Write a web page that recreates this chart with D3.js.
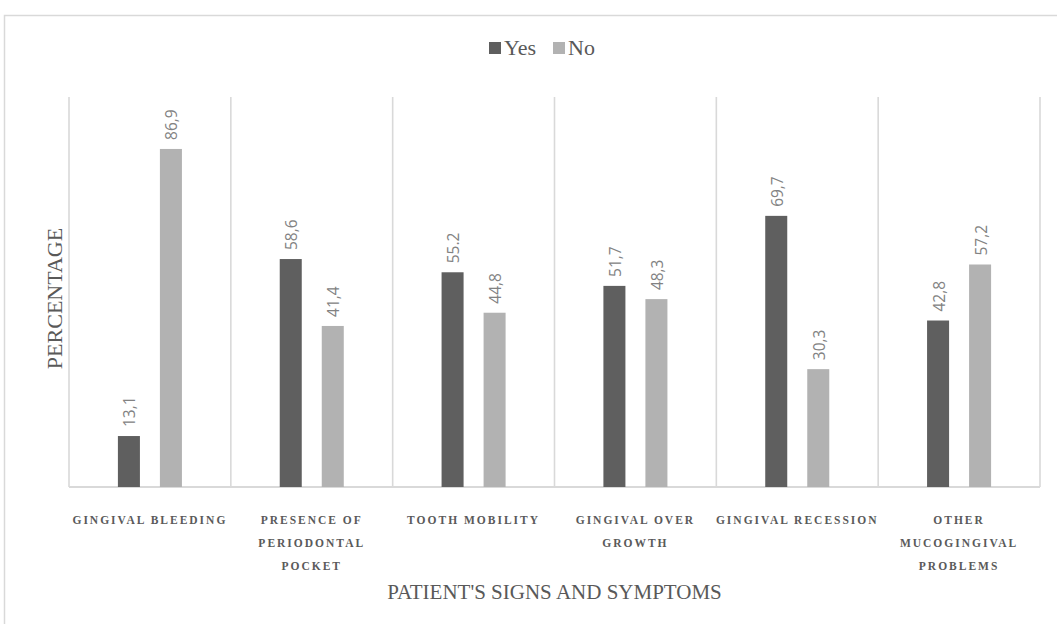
<!DOCTYPE html>
<html>
<head>
<meta charset="utf-8">
<script src="https://cdn.jsdelivr.net/npm/d3@7"></script>
<style>
    body { margin: 0; background: #fff; }
</style>
</head>
<body>
<div id="chart"></div>
<script>
// chart data
const categories = ["GINGIVAL BLEEDING", "PRESENCE OF PERIODONTAL POCKET", "TOOTH MOBILITY",
    "GINGIVAL OVER GROWTH", "GINGIVAL RECESSION", "OTHER MUCOGINGIVAL PROBLEMS"];
const categoryLines = [
    ["GINGIVAL BLEEDING"],
    ["PRESENCE OF", "PERIODONTAL", "POCKET"],
    ["TOOTH MOBILITY"],
    ["GINGIVAL OVER", "GROWTH"],
    ["GINGIVAL RECESSION"],
    ["OTHER", "MUCOGINGIVAL", "PROBLEMS"]
];
const series = ["Yes", "No"];
const yesValues = [13.1, 58.6, 55.2, 51.7, 69.7, 42.8];
const noValues = [86.9, 41.4, 44.8, 48.3, 30.3, 57.2];
const yesLabels = ["13,1", "58,6", "55.2", "51,7", "69,7", "42,8"];
const noLabels = ["86,9", "41,4", "44,8", "48,3", "30,3", "57,2"];

const config = {
    width: 1057,
    height: 624,
    margin: { top: 98, left: 69, bottom: 137, right: 17 },
    colors: { Yes: "#5f5f5f", No: "#b2b2b2" },
    grid: "#d9d9d9",
    serif: "'Liberation Serif', 'DejaVu Serif', serif",
    sans: "'Open Sans', 'Liberation Sans', sans-serif"
}

const data = categories.map((c, i) => ({
    cat: c,
    lines: categoryLines[i],
    values: [
        { key: "Yes", value: yesValues[i], label: yesLabels[i] },
        { key: "No", value: noValues[i], label: noLabels[i] }
    ]
}));

const svg = d3.select("#chart")
    .append("svg")
    .attr("width", config.width)
    .attr("height", config.height)

// outer frame
svg.append("rect")
    .attr("x", 4.5).attr("y", 15.5)
    .attr("width", config.width + 10).attr("height", config.height)
    .attr("fill", "none")
    .attr("stroke", config.grid)
    .attr("stroke-width", 1.5)

const plotBottom = config.height - config.margin.bottom;
const plotRight = config.width - config.margin.right;

const scale_x = d3.scaleBand()
    .domain(categories)
    .range([config.margin.left, plotRight])
    .padding(0);

const scale_x1 = d3.scaleBand()
    .domain(series)
    .range([0, scale_x.bandwidth()])
    .paddingInner(0.476)
    .paddingOuter(1.164);

const scale_y = d3.scaleLinear()
    .domain([0, 100])
    .range([plotBottom, config.margin.top]);

// vertical separators between categories
const bounds = categories.map(c => scale_x(c)).concat([plotRight]);
svg.append("g")
    .selectAll("line")
    .data(bounds)
    .join("line")
    .attr("x1", d => d).attr("x2", d => d)
    .attr("y1", scale_y(100) - 1).attr("y2", plotBottom)
    .attr("stroke", config.grid)
    .attr("stroke-width", 1.6)

// baseline
svg.append("line")
    .attr("x1", config.margin.left).attr("x2", plotRight)
    .attr("y1", plotBottom).attr("y2", plotBottom)
    .attr("stroke", config.grid)
    .attr("stroke-width", 2)

// bars
const g_cat = svg.append("g")
    .selectAll("g")
    .data(data)
    .join("g")
    .attr("transform", d => `translate(${scale_x(d.cat)},0)`)

g_cat.selectAll("rect")
    .data(d => d.values)
    .join("rect")
    .attr("x", d => scale_x1(d.key))
    .attr("y", d => scale_y(d.value))
    .attr("width", scale_x1.bandwidth())
    .attr("height", d => plotBottom - scale_y(d.value))
    .attr("fill", d => config.colors[d.key])

// value labels, rotated
g_cat.selectAll("text")
    .data(d => d.values)
    .join("text")
    .attr("transform", d => `translate(${scale_x1(d.key) + scale_x1.bandwidth() / 2 + 1},${scale_y(d.value) - 9}) rotate(-90)`)
    .attr("dy", "0.35em")
    .attr("text-anchor", "start")
    .attr("font-family", config.sans)
    .attr("font-size", 15.5)
    .attr("fill", "#828282")
    .text(d => d.label)

// category labels
const g_axisX = svg.append("g")
g_axisX.selectAll("text")
    .data(data)
    .join("text")
    .attr("x", d => scale_x(d.cat) + scale_x.bandwidth() / 2)
    .attr("y", plotBottom + 37)
    .attr("text-anchor", "middle")
    .attr("font-family", config.serif)
    .attr("font-size", 11.5)
    .attr("font-weight", "bold")
    .attr("letter-spacing", 2)
    .attr("fill", "#5a5a5a")
    .selectAll("tspan")
    .data(d => d.lines)
    .join("tspan")
    .attr("x", function () { return d3.select(this.parentNode).attr("x"); })
    .attr("dy", (d, i) => i === 0 ? 0 : 23)
    .text(d => d)

// axis titles
svg.append("text")
    .attr("x", (config.margin.left + plotRight) / 2)
    .attr("y", 599)
    .attr("text-anchor", "middle")
    .attr("font-family", config.serif)
    .attr("font-size", 21)
    .attr("fill", "#595959")
    .text("PATIENT'S SIGNS AND SYMPTOMS")

svg.append("text")
    .attr("transform", `translate(62,${(config.margin.top + plotBottom) / 2 + 6}) rotate(-90)`)
    .attr("text-anchor", "middle")
    .attr("font-family", config.serif)
    .attr("font-size", 22)
    .attr("fill", "#595959")
    .text("PERCENTAGE")

// legend
const legendX = [489, 553];
const g_legend = svg.append("g")
    .selectAll("g")
    .data(series)
    .join("g")
    .attr("transform", (d, i) => `translate(${legendX[i]},42)`)
g_legend.append("rect")
    .attr("width", 12).attr("height", 12)
    .attr("fill", d => config.colors[d])
g_legend.append("text")
    .attr("x", 15).attr("y", 13)
    .attr("font-family", config.serif)
    .attr("font-size", 22)
    .attr("fill", "#595959")
    .text(d => d)
</script>
</body>
</html>
